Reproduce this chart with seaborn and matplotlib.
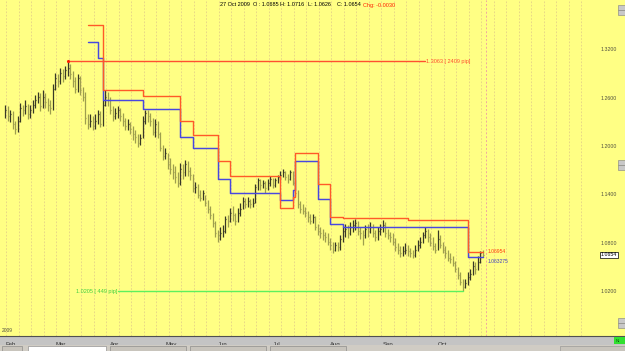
import numpy as np
import pandas as pd
import matplotlib
matplotlib.use("Agg")
import matplotlib.pyplot as plt
import seaborn as sns
from matplotlib.patches import Rectangle

# ---------------- data ----------------
dates = pd.bdate_range("2009-02-02", "2009-10-27")

close = [
    1.245, 1.238, 1.240, 1.228, 1.222,
    1.232, 1.248, 1.245, 1.250, 1.240,
    1.246, 1.252, 1.258, 1.262, 1.250,
    1.262, 1.255, 1.252, 1.248, 1.272,
    1.285, 1.282, 1.292, 1.288, 1.295,
    1.298, 1.290, 1.282, 1.272, 1.285,
    1.270, 1.262, 1.235, 1.228, 1.232,
    1.226, 1.232, 1.240, 1.228, 1.252,
    1.262, 1.258, 1.245, 1.238, 1.242,
    1.245, 1.238, 1.232, 1.225, 1.228,
    1.222, 1.215, 1.212, 1.205, 1.210,
    1.232, 1.242, 1.238, 1.232, 1.218,
    1.228, 1.215, 1.198, 1.188, 1.192,
    1.178, 1.172, 1.168, 1.162, 1.155,
    1.172, 1.168, 1.178, 1.170, 1.165,
    1.148, 1.150, 1.140, 1.136, 1.142,
    1.130, 1.122, 1.115, 1.105, 1.092,
    1.090, 1.092, 1.095, 1.110, 1.108,
    1.118, 1.115, 1.108, 1.118, 1.122,
    1.132, 1.128, 1.132, 1.128, 1.130,
    1.150, 1.158, 1.152, 1.155, 1.148,
    1.155, 1.160, 1.152, 1.158, 1.162,
    1.165, 1.168, 1.162, 1.160, 1.168,
    1.155, 1.142, 1.128, 1.122, 1.120,
    1.118, 1.112, 1.108, 1.112, 1.100,
    1.095, 1.092, 1.090, 1.088, 1.082,
    1.078, 1.072, 1.078, 1.075, 1.085,
    1.095, 1.098, 1.092, 1.100, 1.102,
    1.105, 1.095, 1.092, 1.090, 1.098,
    1.095, 1.100, 1.092, 1.088, 1.095,
    1.098, 1.102, 1.092, 1.090, 1.088,
    1.082, 1.075, 1.072, 1.068, 1.070,
    1.072, 1.070, 1.068, 1.065, 1.072,
    1.078, 1.082, 1.090, 1.095, 1.088,
    1.080, 1.076, 1.072, 1.085, 1.078,
    1.072, 1.068, 1.062, 1.060, 1.055,
    1.048, 1.040, 1.032, 1.025, 1.030,
    1.038, 1.042, 1.052, 1.048, 1.056,
    1.068, 1.0654,
]

high = [
    1.252, 1.250, 1.246, 1.244, 1.232,
    1.238, 1.254, 1.252, 1.258, 1.253,
    1.252, 1.258, 1.264, 1.268, 1.266,
    1.270, 1.266, 1.260, 1.258, 1.278,
    1.292, 1.290, 1.298, 1.296, 1.300,
    1.3063, 1.302, 1.294, 1.286, 1.290,
    1.288, 1.274, 1.268, 1.240, 1.240,
    1.238, 1.240, 1.246, 1.244, 1.258,
    1.270, 1.268, 1.262, 1.250, 1.248,
    1.250, 1.248, 1.242, 1.236, 1.234,
    1.230, 1.226, 1.220, 1.216, 1.216,
    1.238, 1.246, 1.245, 1.242, 1.236,
    1.234, 1.232, 1.218, 1.202, 1.198,
    1.192, 1.186, 1.178, 1.176, 1.168,
    1.180, 1.178, 1.183, 1.182, 1.174,
    1.166, 1.156, 1.154, 1.146, 1.146,
    1.140, 1.134, 1.126, 1.118, 1.108,
    1.096, 1.100, 1.102, 1.114, 1.115,
    1.124, 1.126, 1.118, 1.124, 1.130,
    1.137, 1.136, 1.137, 1.135, 1.136,
    1.154, 1.161, 1.160, 1.158, 1.157,
    1.160, 1.163, 1.161, 1.161, 1.165,
    1.169, 1.172, 1.170, 1.166, 1.171,
    1.170, 1.158, 1.146, 1.132, 1.128,
    1.125, 1.120, 1.116, 1.116, 1.114,
    1.104, 1.100, 1.097, 1.094, 1.092,
    1.086, 1.082, 1.082, 1.082, 1.090,
    1.100, 1.104, 1.102, 1.106, 1.109,
    1.110, 1.108, 1.100, 1.096, 1.102,
    1.104, 1.106, 1.104, 1.096, 1.100,
    1.104, 1.109, 1.106, 1.098, 1.094,
    1.092, 1.086, 1.080, 1.076, 1.076,
    1.080, 1.078, 1.074, 1.072, 1.078,
    1.084, 1.088, 1.094, 1.100, 1.098,
    1.092, 1.088, 1.080, 1.096, 1.090,
    1.082, 1.076, 1.072, 1.068, 1.064,
    1.058, 1.050, 1.044, 1.036, 1.036,
    1.044, 1.048, 1.058, 1.056, 1.064,
    1.070, 1.0716,
]

low = [
    1.236, 1.232, 1.230, 1.222, 1.215,
    1.218, 1.230, 1.238, 1.240, 1.234,
    1.236, 1.242, 1.248, 1.254, 1.244,
    1.248, 1.248, 1.244, 1.240, 1.246,
    1.270, 1.274, 1.278, 1.280, 1.284,
    1.288, 1.284, 1.274, 1.266, 1.268,
    1.264, 1.256, 1.228, 1.222, 1.224,
    1.220, 1.222, 1.228, 1.224, 1.226,
    1.250, 1.250, 1.240, 1.232, 1.234,
    1.236, 1.232, 1.226, 1.220, 1.220,
    1.216, 1.208, 1.204, 1.199, 1.202,
    1.210, 1.228, 1.230, 1.226, 1.214,
    1.212, 1.210, 1.194, 1.183, 1.184,
    1.172, 1.166, 1.160, 1.155, 1.150,
    1.152, 1.160, 1.164, 1.164, 1.158,
    1.144, 1.142, 1.136, 1.132, 1.134,
    1.126, 1.118, 1.110, 1.100, 1.088,
    1.082, 1.084, 1.088, 1.092, 1.100,
    1.106, 1.108, 1.103, 1.106, 1.114,
    1.122, 1.124, 1.125, 1.124, 1.125,
    1.130, 1.146, 1.146, 1.148, 1.142,
    1.146, 1.151, 1.148, 1.150, 1.155,
    1.158, 1.162, 1.158, 1.155, 1.158,
    1.152, 1.138, 1.124, 1.117, 1.116,
    1.112, 1.106, 1.104, 1.105, 1.096,
    1.090, 1.086, 1.084, 1.082, 1.078,
    1.072, 1.068, 1.070, 1.070, 1.072,
    1.082, 1.088, 1.086, 1.090, 1.094,
    1.096, 1.090, 1.085, 1.078, 1.086,
    1.088, 1.092, 1.088, 1.083, 1.084,
    1.090, 1.094, 1.088, 1.085, 1.082,
    1.078, 1.070, 1.066, 1.063, 1.064,
    1.066, 1.064, 1.063, 1.062, 1.063,
    1.070, 1.074, 1.080, 1.086, 1.082,
    1.076, 1.072, 1.068, 1.072, 1.074,
    1.068, 1.062, 1.058, 1.055, 1.051,
    1.044, 1.035, 1.028, 1.0205, 1.024,
    1.028, 1.034, 1.040, 1.042, 1.046,
    1.055, 1.0626,
]

level_start = ["2009-03-19", "2009-03-25", "2009-03-27", "2009-04-20", "2009-05-11",
               "2009-05-18", "2009-06-01", "2009-06-08", "2009-07-06", "2009-07-13",
               "2009-07-14", "2009-07-27", "2009-08-03", "2009-08-10", "2009-09-15",
               "2009-10-19", "2009-10-27"]
red_level = [1.351, 1.351, 1.2703, 1.2628, 1.2317, 1.2143, 1.182, 1.1634, 1.1236,
             1.1373, 1.192, 1.1535, 1.1125, 1.1112, 1.1087, 1.06954, 1.06954]
blue_level = [1.3299, 1.310, 1.2578, 1.2467, 1.2119, 1.1982, 1.1597, 1.1423, 1.1336,
              1.146, 1.182, 1.1348, 1.1038, 1.1000, 1.1000, 1.063275, 1.063275]

peak_date, peak_value, peak_label = "2009-03-09", 1.3063, "1.3063 [ 2409 pip]"
peak_line_end = "2009-09-24"
trough_date, trough_value, trough_label = "2009-10-15", 1.0205, "1.0205 [ 449 pip]"
trough_line_start = "2009-04-06"

month_labels = ["Feb", "Mar", "Apr", "May", "Jun", "Jul", "Aug", "Sep", "Oct"]
month_starts = ["2009-02-02", "2009-03-02", "2009-04-01", "2009-05-01", "2009-06-01",
                "2009-07-01", "2009-08-03", "2009-09-01", "2009-10-01"]
price_ticks = [1.32, 1.26, 1.20, 1.14, 1.08, 1.02]
price_tick_labels = ["1.3200", "1.2600", "1.2000", "1.1400", "1.0800", "1.0200"]
last_price = "1.0654"

# ---------------- helpers ----------------
def pos(d):
    return int(dates.get_indexer([pd.Timestamp(d)])[0])

W, H = 625, 351
YELLOW = "#ffff84"
sns.set_style("white")
plt.rcParams["font.family"] = ["Liberation Sans", "DejaVu Sans"]

fig = plt.figure(figsize=(W / 100, H / 100), dpi=100, facecolor="#c4c4c4")
plot_h = 336
ax = fig.add_axes([0, 1 - plot_h / H, 1, plot_h / H])
ax.set_facecolor(YELLOW)

px_per_price = 1 / 0.0012426
y_top = 1.3063 + 61 / px_per_price
y_bot = 1.3063 - (plot_h - 61) / px_per_price
ax.set_ylim(y_bot, y_top)
ax.set_xlim(-2, 248)

# weekly grid lines
for gx in np.arange(1, 233, 5):
    ax.axvline(gx - 0.5, color="#e4d088", lw=0.6, ls=(0, (2, 2)), zorder=0)
ax.axvline(192.5, color="#f0a8a0", lw=0.7, ls=(0, (2, 2)), zorder=0)

# OHLC bars
idx = np.arange(len(close))
cl = np.array(close)
prev = np.r_[cl[0], cl[:-1]]
colors = np.where(cl >= prev, "#383826", "#9e9e4e")
ax.vlines(idx, low, high, colors=colors, lw=0.9, zorder=3)
ax.hlines(cl, idx, idx + 0.5, colors=colors, lw=0.9, zorder=3)

# stepped levels
lv = pd.DataFrame({"x": [pos(d) for d in level_start], "red": red_level, "blue": blue_level})
sns.lineplot(data=lv, x="x", y="blue", ax=ax, color="#4848e0", lw=1.05,
             drawstyle="steps-post", zorder=4)
sns.lineplot(data=lv, x="x", y="red", ax=ax, color="#ff5a28", lw=1.0,
             drawstyle="steps-post", zorder=5)
ax.text(lv["x"].iloc[-1] + 2, red_level[-1], f"{red_level[-1]:.5f}".rstrip("0"),
        color="#ff3a10", fontsize=3.6, va="center", ha="left")
ax.text(lv["x"].iloc[-1] + 2, blue_level[-1] - 0.006, f"{blue_level[-1]:.6f}".rstrip("0"),
        color="#4040c0", fontsize=3.6, va="center", ha="left")

# peak / trough lines
pk = pd.DataFrame({"x": [pos(peak_date), pos(peak_line_end)], "y": [peak_value] * 2})
sns.lineplot(data=pk, x="x", y="y", ax=ax, color="#ff5030", lw=1.0, zorder=5)
sns.scatterplot(x=[pos(peak_date)], y=[peak_value], ax=ax, color="#ff2000", s=5,
                linewidth=0, zorder=6)
ax.text(pos(peak_line_end) + 0.3, peak_value, peak_label, color="#ff5030",
        fontsize=4, va="center", ha="left")
tr = pd.DataFrame({"x": [pos(trough_line_start), pos(trough_date)], "y": [trough_value] * 2})
sns.lineplot(data=tr, x="x", y="y", ax=ax, color="#5ef05e", lw=1.0, zorder=5)
ax.text(pos(trough_line_start), trough_value, trough_label, color="#40d040",
        fontsize=4, va="center", ha="right")

# right price axis labels
ytr = ax.get_yaxis_transform()
for p, lab in zip(price_ticks, price_tick_labels):
    ax.text(601 / W, p, lab, transform=ytr, fontsize=3.8, color="#505040",
            va="center", ha="left", clip_on=True)
ax.text(601 / W, float(last_price), last_price, transform=ytr, fontsize=3.8,
        color="black", va="center", ha="left",
        bbox=dict(boxstyle="square,pad=0.15", fc="white", ec="black", lw=0.5))

# x axis ticks
ax.set_xticks([pos(d) for d in month_starts])
ax.set_xticklabels(month_labels, fontsize=4.3, color="#303030", ha="left")
ax.set_xticks(idx, minor=True)
ax.tick_params(axis="x", which="major", length=3, width=0.5, color="#404040", pad=1.0,
               direction="out")
ax.tick_params(axis="x", which="minor", length=1.6, width=0.4, color="#505050",
               direction="out")
ax.set_yticks([])
ax.set_xlabel("")
ax.set_ylabel("")
for s in ["top", "left", "right"]:
    ax.spines[s].set_visible(False)
ax.spines["bottom"].set_color("#505050")
ax.spines["bottom"].set_linewidth(0.8)
ax.text(0.003, 3 / plot_h, "2009", transform=ax.transAxes, fontsize=3.5,
        color="#505040", va="bottom", ha="left")

# header text
hdr_y = 1 - 5 / H
for txt, xp, col in [("27 Oct 2009", 220, "black"), ("O : 1.0685", 253, "black"),
                     ("H: 1.0716", 280, "black"), ("L: 1.0626", 308, "black"),
                     ("C: 1.0654", 337, "black"), ("Chg: -0.0030", 363, "#ff2000")]:
    fig.text(xp / W, hdr_y, txt, fontsize=4, color=col, va="center", ha="left")

# window chrome bits
def fig_rect(x0, y0, w, h, fc, ec="none", lw=0):
    fig.patches.append(Rectangle((x0 / W, 1 - (y0 + h) / H), w / W, h / H,
                                 transform=fig.transFigure, fc=fc, ec=ec, lw=lw,
                                 zorder=10))
for yb in (5, 160, 318):
    fig_rect(618, yb, 7, 5, "#c8c8c8", "#808080", 0.4)
    fig_rect(618, yb + 5, 7, 5, "#c8c8c8", "#808080", 0.4)
fig_rect(614, 337, 11, 7, "#30e030")
fig.text(616 / W, 1 - 340.5 / H, "NI", fontsize=3, color="#105010", va="center", zorder=11)
fig_rect(0, 345, 625, 6, "#d0ccc4")
fig_rect(2, 346, 20, 5, "#c8c4bc", "#808080", 0.4)
fig_rect(28, 346, 78, 5, "#ffffff", "#808080", 0.4)
for xb in (110, 190, 270):
    fig_rect(xb, 346, 76, 5, "#c8c4bc", "#808080", 0.4)
fig_rect(560, 346, 65, 5, "#c8c4bc", "#909090", 0.4)

fig.savefig("out.png", dpi=100, facecolor=fig.get_facecolor())
